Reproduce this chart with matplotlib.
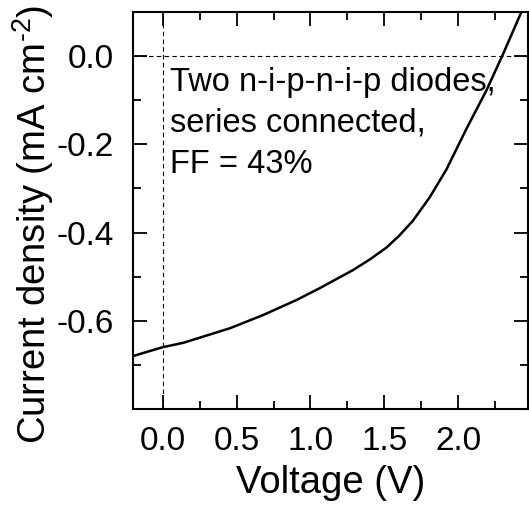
import matplotlib
matplotlib.use('Agg')
import matplotlib.pyplot as plt
from matplotlib.ticker import MultipleLocator

plt.rcParams['font.family'] = ['Liberation Sans', 'DejaVu Sans']
plt.rcParams['axes.unicode_minus'] = False
plt.rcParams['mathtext.fontset'] = 'custom'
plt.rcParams['mathtext.rm'] = 'Liberation Sans'

# J-V curve
voltage = [-0.2, 0.0, 0.14, 0.455, 0.68, 0.905, 1.063, 1.288, 1.401, 1.514, 1.60, 1.693, 1.806,
           1.919, 2.054, 2.189, 2.301, 2.414, 2.45]
current = [-0.680, -0.660, -0.650, -0.617, -0.587, -0.553, -0.526, -0.485, -0.461, -0.434, -0.407, -0.373, -0.320,
           -0.257, -0.165, -0.078, 0.004, 0.091, 0.118]
note = "Two n-i-p-n-i-p diodes,\nseries connected,\nFF = 43%"

fig = plt.figure(figsize=(5.29, 5.14), dpi=100)
ax = fig.add_axes([0.2514, 0.2043, 0.7466, 0.7724])

ax.axvline(0, color='black', lw=0.8, ls=(0, (4, 3)))
ax.axhline(0, color='black', lw=0.8, ls=(0, (4, 3)))
ax.plot(voltage, current, color='black', lw=1.8)

ax.set_xlim(-0.2, 2.47)
ax.set_ylim(-0.8, 0.1)
ax.xaxis.set_minor_locator(MultipleLocator(0.25))
ax.yaxis.set_minor_locator(MultipleLocator(0.1))
ax.set_xticks([0.0, 0.5, 1.0, 1.5, 2.0])
ax.set_xticklabels(['0.0', '0.5', '1.0', '1.5', '2.0'])
ax.set_yticks([-0.6, -0.4, -0.2, 0.0])
ax.set_yticklabels(['-0.6', '-0.4', '-0.2', '0.0'])

ax.tick_params(which='both', direction='in', top=True, right=True, width=1.3, labelsize=24)
ax.tick_params(axis='y', pad=14)
ax.tick_params(axis='x', pad=12)
ax.tick_params(which='major', length=10)
ax.tick_params(which='minor', length=6)
for s in ax.spines.values():
    s.set_linewidth(1.5)

ax.set_xlabel('Voltage (V)', fontsize=27.5, labelpad=6)
ax.set_ylabel('Current density (mA cm$^{\\text{-}2}$)', fontsize=27.5)
ax.yaxis.set_label_coords(-0.195, 0.465)

ax.text(0.05, -0.024, note, fontsize=23.5, va='top', ha='left', linespacing=1.42)

fig.savefig('out.png', dpi=100)
